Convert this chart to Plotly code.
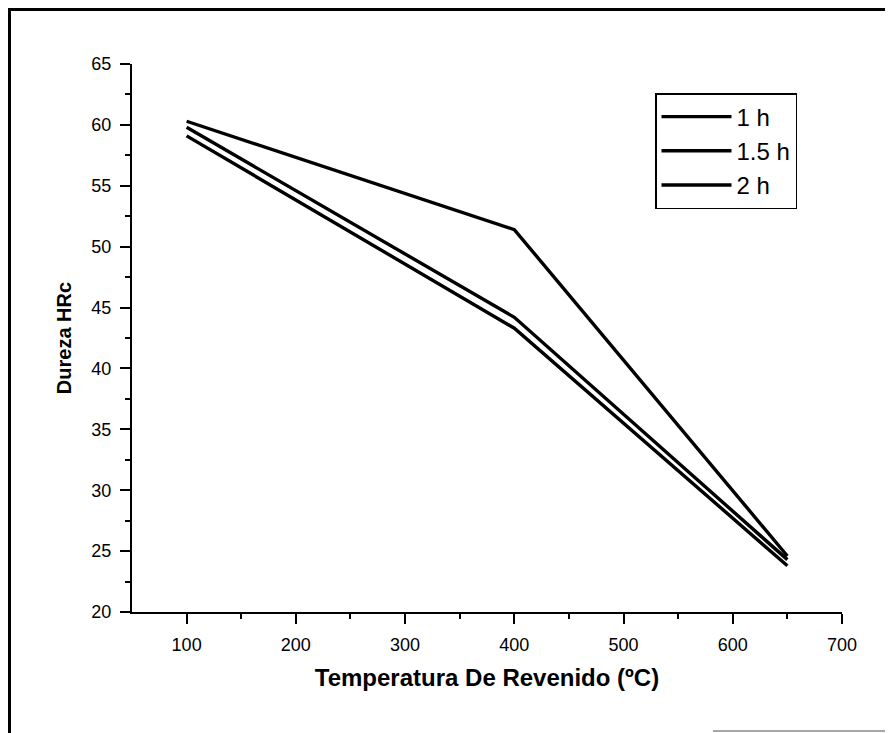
import plotly.graph_objects as go

temperatura = [100, 400, 650]
dureza_1h = [60.3, 51.4, 24.6]
dureza_15h = [59.8, 44.2, 24.3]
dureza_2h = [59.1, 43.3, 23.8]
series_names = ["1 h", "1.5 h", "2 h"]

x_ticks = [100, 200, 300, 400, 500, 600, 700]
y_ticks = [20, 25, 30, 35, 40, 45, 50, 55, 60, 65]

FONT = "Liberation Sans, Arial, sans-serif"

W, H = 885, 725
L, R, T, B = 124, 51, 56, 121
PW, PH = W - L - R, H - T - B


def px(xpix):
    return (xpix - L) / PW


def py(ypix):
    return (H - B - ypix) / PH


fig = go.Figure()
for name, ys in zip(series_names, [dureza_1h, dureza_15h, dureza_2h]):
    fig.add_trace(go.Scatter(
        x=temperatura, y=ys, mode="lines", name=name,
        line=dict(color="black", width=3.4),
    ))

axis_common = dict(
    showgrid=False, zeroline=False, showline=True, linecolor="black", linewidth=2,
    ticks="outside", tickcolor="black", tickwidth=2, ticklen=10,
    tickfont=dict(family=FONT, size=18, color="black"),
    ticklabelstandoff=5,
    mirror=False,
)

fig.update_xaxes(
    range=[50, 700], tickvals=x_ticks,
    minor=dict(tickvals=[150, 250, 350, 450, 550, 650], ticks="outside", ticklen=5, tickwidth=2, tickcolor="black"),
    title=dict(text="<b>Temperatura De Revenido (ºC)</b>", font=dict(family=FONT, size=24, color="black"), standoff=16),
    **axis_common,
)
fig.update_yaxes(
    range=[20, 65], tickvals=y_ticks,
    minor=dict(tickvals=[22.5, 27.5, 32.5, 37.5, 42.5, 47.5, 52.5, 57.5, 62.5], ticks="outside", ticklen=5, tickwidth=2, tickcolor="black"),
    title=dict(text="<b>Dureza HRc</b>", font=dict(family=FONT, size=20, color="black"), standoff=14),
    **axis_common,
)

fig.update_layout(
    width=W, height=H,
    margin=dict(l=L, r=R, t=T, b=B),
    paper_bgcolor="white", plot_bgcolor="white",
    showlegend=True,
    legend=dict(
        x=px(647), y=py(85),
        xanchor="left", yanchor="top",
        bgcolor="white", bordercolor="black", borderwidth=1.5,
        font=dict(family=FONT, size=24, color="black"),
        itemwidth=70, tracegroupgap=4, entrywidth=150,
    ),
    shapes=[
        dict(type="line", xref="paper", yref="paper", x0=px(0), x1=px(W),
             y0=py(1.5), y1=py(1.5), line=dict(color="black", width=3)),
        dict(type="line", xref="paper", yref="paper", x0=px(1.5), x1=px(1.5),
             y0=py(0), y1=py(H), line=dict(color="black", width=3)),
        dict(type="line", xref="paper", yref="paper", x0=px(705), x1=px(W),
             y0=py(H - 2), y1=py(H - 2), line=dict(color="#888888", width=1.5)),
    ],
)

fig.write_html("out.html")
